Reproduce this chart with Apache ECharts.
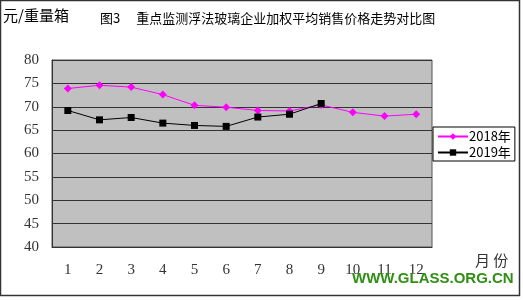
<!DOCTYPE html>
<html><head><meta charset="utf-8">
<script src="https://cdn.jsdelivr.net/npm/echarts@6/dist/echarts.min.js"></script>
<style>html,body{margin:0;padding:0;background:#fff;}#c{width:523px;height:300px;}</style>
</head><body><div id="c"></div>
<script>
const months = ['1','2','3','4','5','6','7','8','9','10','11','12'];
const s2018 = [73.9, 74.6, 74.2, 72.6, 70.3, 69.9, 69.2, 69.1, 70.4, 68.8, 68.0, 68.4];
const s2019 = [69.2, 67.2, 67.7, 66.5, 66.0, 65.8, 67.8, 68.4, 70.7];
const yTicks = [40, 45, 50, 55, 60, 65, 70, 75, 80];

const chart = echarts.init(document.getElementById('c'), null, {renderer:'canvas'});
const serif = '"Liberation Serif", "DejaVu Serif", serif';
const cjk = '"Noto Sans CJK SC", sans-serif';
chart.setOption({
  animation:false,
  backgroundColor:'#fff',
  grid:{left:52, top:60, right:91, bottom:53, show:true, backgroundColor:'#c0c0c0', borderColor:'#555', borderWidth:1},
  legend:{
    orient:'vertical', left:433, top:127, width:78, height:34,
    padding:[3,4,2,4], itemGap:3, itemWidth:30, itemHeight:8,
    borderColor:'#000', borderWidth:1, backgroundColor:'#fff',
    textStyle:{fontFamily:cjk, fontSize:13, color:'#000', padding:[0,0,0,-4]},
    data:['2018年','2019年']
  },
  xAxis:{
    type:'category', data:months, boundaryGap:true,
    axisLine:{lineStyle:{color:'#333', width:1}},
    axisTick:{inside:true, length:4, lineStyle:{color:'#333'}},
    axisLabel:{fontFamily:serif, fontSize:15, color:'#333', margin:16}
  },
  yAxis:{
    type:'value', min:40, max:80, interval:5,
    axisLine:{show:true, lineStyle:{color:'#333'}},
    axisTick:{show:false},
    axisLabel:{fontFamily:serif, fontSize:15, color:'#333', margin:13,
      formatter:v=> yTicks.includes(v) ? String(v) : ''},
    splitLine:{lineStyle:{color:'#333', width:1}}
  },
  series:[
    {name:'2018年', type:'line', data:s2018, symbol:'diamond', symbolSize:8,
      lineStyle:{color:'#ff00ff', width:1}, itemStyle:{color:'#ff00ff'}, z:3},
    {name:'2019年', type:'line', data:s2019, symbol:'rect', symbolSize:7,
      lineStyle:{color:'#000', width:1}, itemStyle:{color:'#000'}, z:4}
  ],
  graphic:[
    {type:'rect', shape:{x:0.5, y:0.5, width:519, height:295}, style:{fill:null, stroke:'#333', lineWidth:1.5}, silent:true, z:100},
    {type:'text', left:3, top:8, style:{text:'元/重量箱', font:'15px '+cjk, fill:'#000'}},
    {type:'text', left:100, top:12, style:{text:'图3　 重点监测浮法玻璃企业加权平均销售价格走势对比图', font:'13px '+cjk, fill:'#000'}},
    {type:'text', left:475, top:253, style:{text:'月 份', font:'15px '+cjk, fill:'#333'}},
    {type:'text', left:352, top:271, style:{text:'WWW.GLASS.ORG.CN', font:'bold 15px "Liberation Sans", Arial, sans-serif', fill:'#2f8f12'}, z:50}
  ]
});
</script></body></html>
